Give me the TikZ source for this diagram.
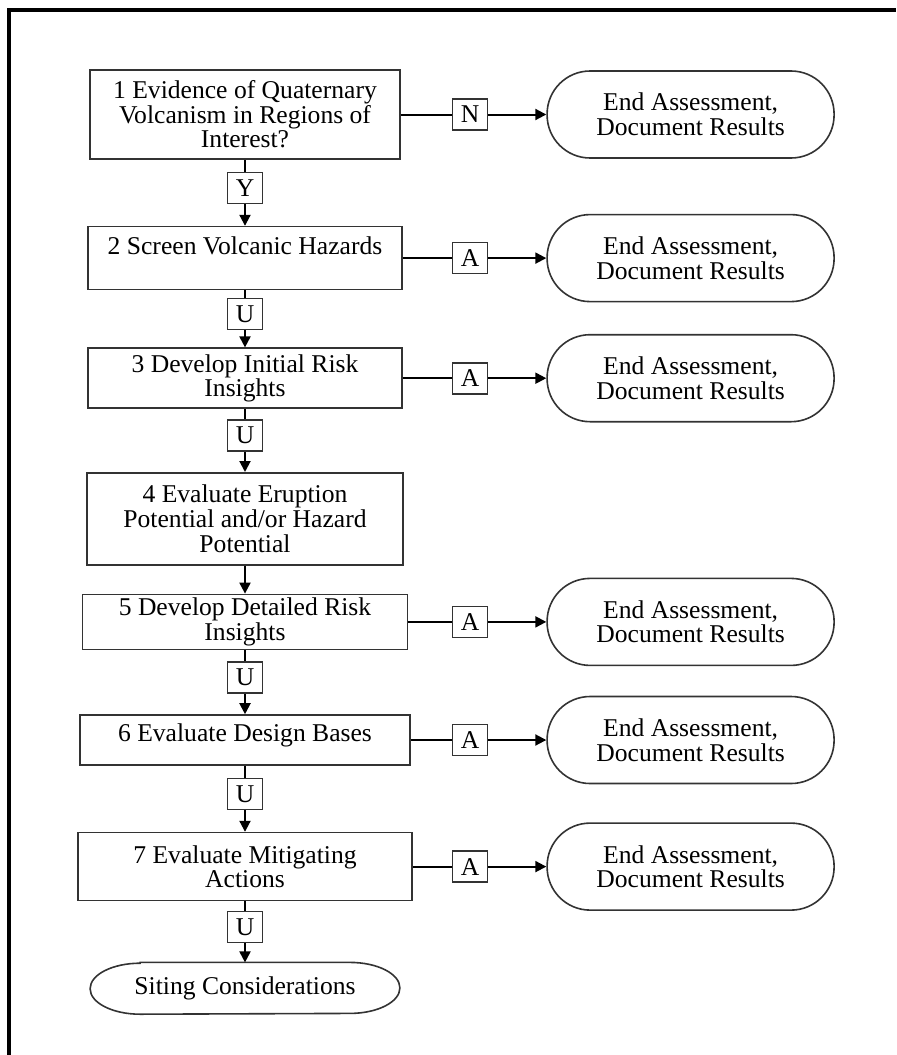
\documentclass[tikz,border=0pt]{standalone}
\usepackage{fontspec}
\setmainfont{Liberation Serif}
\usetikzlibrary{arrows.meta, positioning, calc}

\begin{document}
\begin{tikzpicture}[
    font=\fontsize{12.8pt}{12.3pt}\selectfont,
    % Node styles
    stepbox/.style={
        rectangle, draw=black!80, line width=0.8pt,
        minimum width=#1, align=center, inner xsep=3pt, inner ysep=1pt
    },
    stepbox/.default=157pt,
    endbox/.style={
        rectangle, rounded corners=21.5pt, draw=black!80, line width=0.8pt,
        minimum width=143.5pt, minimum height=43.5pt, align=center
    },
    answer/.style={
        rectangle, draw=black!80, line width=0.8pt,
        minimum width=17.5pt, minimum height=15.5pt, inner sep=0pt
    },
    line/.style={line width=1pt},
    arr/.style={line, -{Triangle[length=5.5pt, width=5.5pt]}},
]

\useasboundingbox (0,0) rectangle (448pt,-527.5pt);

% Frame (only top and left edge visible)
\draw[line width=2pt] (4.5pt,-527.5pt) -- (4.5pt,-5pt) -- (448pt,-5pt);

% column of the answer boxes on the right branches
\coordinate (col) at (235pt,0);

% ═══════════════════════════════════════════════════════════════
% Main column of steps
% ═══════════════════════════════════════════════════════════════

\node[stepbox=155pt, minimum height=44.5pt] (S1) at (122.5pt,-57.25pt) {
    1 Evidence of Quaternary\\Volcanism in Regions of\\Interest?
};

\node[stepbox=157pt, minimum height=31.5pt, below=33pt of S1] (S2) {
    2 Screen Volcanic Hazards\\ \mbox{}
};

\node[stepbox=157pt, minimum height=30pt, below=28.5pt of S2] (S3) {
    3 Develop Initial Risk\\Insights
};

\node[stepbox=158pt, minimum height=46pt, below=31.5pt of S3] (S4) {
    4 Evaluate Eruption\\Potential and/or Hazard\\Potential
};

\node[stepbox=162.5pt, minimum height=27.5pt, below=14pt of S4] (S5) {
    5 Develop Detailed Risk\\Insights
};

\node[stepbox=165pt, minimum height=25pt, below=32pt of S5] (S6) {
    6 Evaluate Design Bases\\[-5pt] \mbox{}
};

\node[stepbox=167pt, minimum height=34pt, below=33pt of S6] (S7) {
    7 Evaluate Mitigating\\Actions
};

\node[minimum width=154.5pt, minimum height=25.5pt, below=30.5pt of S7] (SC) {
    Siting Considerations
};
\draw[draw=black!80, line width=0.8pt]
    ($(SC.north west)+(25pt,0)$) -- ($(SC.north east)+(-25pt,0)$)
    arc[start angle=90, end angle=-90, x radius=25pt, y radius=12.75pt]
    -- ($(SC.south west)+(25pt,0)$)
    arc[start angle=270, end angle=90, x radius=25pt, y radius=12.75pt] -- cycle;

% Answer boxes between the steps
\node[answer] (Y1) at ($(S1.south)!0.5!(S2.north)+(0,2.5pt)$) {Y};
\node[answer] (U2) at ($(S2.south)!0.5!(S3.north)+(0,2.5pt)$) {U};
\node[answer] (U3) at ($(S3.south)!0.5!(S4.north)+(0,2.5pt)$) {U};
\node[answer] (U5) at ($(S5.south)!0.5!(S6.north)+(0,2.5pt)$) {U};
\node[answer] (U6) at ($(S6.south)!0.5!(S7.north)+(0,2.5pt)$) {U};
\node[answer] (U7) at ($(S7.south)!0.5!(SC.north)+(0,2.5pt)$) {U};

% Arrows (main column)
\draw[line] (S1) -- (Y1);  \draw[arr] (Y1) -- (S2);
\draw[line] (S2) -- (U2);  \draw[arr] (U2) -- (S3);
\draw[line] (S3) -- (U3);  \draw[arr] (U3) -- (S4);
\draw[arr] (S4) -- (S5);
\draw[line] (S5) -- (U5);  \draw[arr] (U5) -- (S6);
\draw[line] (S6) -- (U6);  \draw[arr] (U6) -- (S7);
\draw[line] (S7) -- (U7);  \draw[arr] (U7) -- (SC);

% ═══════════════════════════════════════════════════════════════
% Branches to the end of the assessment
% ═══════════════════════════════════════════════════════════════

\node[answer] (N1) at (S1 -| col) {N};
\node[endbox, right=29pt of N1] (E1) {End Assessment,\\Document Results};
\draw[line] (S1) -- (N1);
\draw[arr] (N1) -- (E1);

\foreach \s in {2,3,5,6,7} {
    \node[answer] (A\s) at (S\s -| col) {A};
    \node[endbox, right=29pt of A\s] (E\s) {End Assessment,\\Document Results};
    \draw[line] (S\s) -- (A\s);
    \draw[arr] (A\s) -- (E\s);
}

\end{tikzpicture}
\end{document}
